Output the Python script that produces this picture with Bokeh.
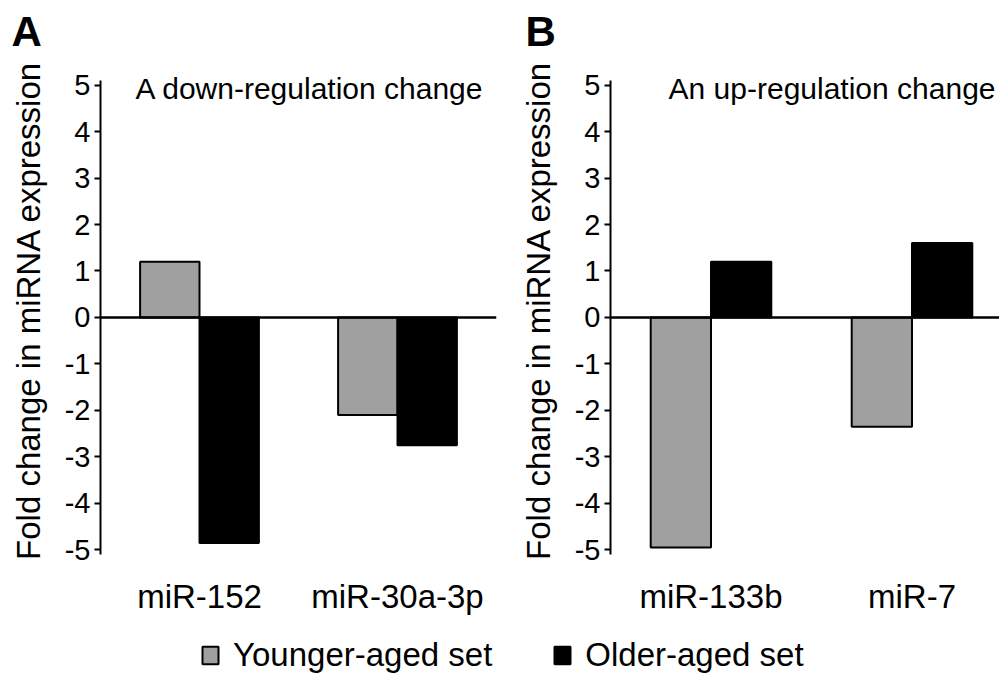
from bokeh.plotting import figure
from bokeh.models import (Range1d, FixedTicker, Span, Label, Legend, LegendItem,
                          LinearAxis, ColumnDataSource)
from bokeh.layouts import column, row
from bokeh.embed import file_html
from bokeh.resources import INLINE

FONT = "Liberation Sans"

# ---- data ----
mirnas_a = ["miR-152", "miR-30a-3p"]
younger_a = [1.2, -2.1]
older_a = [-4.85, -2.75]

mirnas_b = ["miR-133b", "miR-7"]
younger_b = [-4.95, -2.35]
older_b = [1.2, 1.6]

series = ["Younger-aged set", "Older-aged set"]
y_ticks = [-5, -4, -3, -2, -1, 0, 1, 2, 3, 4, 5]
y_label = "Fold change in miRNA expression"
titles = ["A down-regulation change", "An up-regulation change"]
panel_letters = ["A", "B"]

GRAY = "#a0a0a0"
BAR_W = 0.3
HEADER_H = 60
PANEL_H = 560
LEGEND_H = 57


def make_panel(cats, young, old, title, width, b_left, b_right, x_end, title_x):
    p = figure(width=width, height=PANEL_H, output_backend="svg", toolbar_location=None,
               x_range=Range1d(0, x_end), y_range=Range1d(-5.1, 5.4),
               min_border_left=b_left, min_border_right=b_right,
               min_border_top=6, min_border_bottom=66,
               x_axis_location=None, y_axis_location=None)
    p.grid.visible = False
    p.outline_line_color = None
    p.background_fill_color = "white"
    p.border_fill_color = "white"

    centers = [i + 0.5 for i in range(len(cats))]
    src = ColumnDataSource(dict(
        xy=[c - BAR_W / 2 for c in centers],
        xo=[c + BAR_W / 2 for c in centers],
        young=young, old=old))
    p.vbar(x="xy", top="young", bottom=0, width=BAR_W, source=src,
           fill_color=GRAY, line_color="black", line_width=2)
    p.vbar(x="xo", top="old", bottom=0, width=BAR_W, source=src,
           fill_color="black", line_color="black", line_width=2)

    p.add_layout(Span(location=0, dimension="width", line_color="black", line_width=2.5))

    yax = LinearAxis(ticker=FixedTicker(ticks=y_ticks), axis_label=y_label,
                     major_label_overrides={t: str(t) for t in y_ticks},
                     bounds=(-5.1, 5.1))
    yax.axis_line_width = 2
    yax.major_tick_line_width = 2
    yax.major_tick_out = 6
    yax.major_tick_in = 0
    yax.minor_tick_line_color = None
    yax.major_label_text_font = FONT
    yax.major_label_text_font_size = "29px"
    yax.major_label_text_color = "black"
    yax.major_label_standoff = 4
    yax.axis_label_text_font = FONT
    yax.axis_label_text_font_size = "33px"
    yax.axis_label_text_font_style = "normal"
    yax.axis_label_text_color = "black"
    yax.axis_label_standoff = 15
    p.add_layout(yax, "left")

    xax = LinearAxis(ticker=FixedTicker(ticks=centers),
                     major_label_overrides={c: n for c, n in zip(centers, cats)})
    xax.axis_line_color = None
    xax.major_tick_line_color = None
    xax.minor_tick_line_color = None
    xax.major_label_text_font = FONT
    xax.major_label_text_font_size = "33px"
    xax.major_label_text_color = "black"
    xax.major_label_standoff = 17
    p.add_layout(xax, "below")

    p.add_layout(Label(x=title_x, y=4.917, text=title, text_font=FONT,
                       text_font_size="30px", text_color="black",
                       text_baseline="middle"))
    return p


# header with the panel letters
head = figure(width=999, height=HEADER_H, output_backend="svg", toolbar_location=None,
              min_border=0, x_range=Range1d(0, 999), y_range=Range1d(HEADER_H, 0),
              x_axis_location=None, y_axis_location=None)
head.grid.visible = False
head.outline_line_color = None
for letter, lx in zip(panel_letters, [11, 525]):
    head.add_layout(Label(x=lx, y=31, text=letter, text_font=FONT,
                          text_font_size="42px", text_font_style="bold",
                          text_color="black", text_baseline="middle"))

pa = make_panel(mirnas_a, younger_a, older_a, titles[0],
                width=500, b_left=100, b_right=4, x_end=2.0, title_x=0.177)
pb = make_panel(mirnas_b, younger_b, older_b, titles[1],
                width=499, b_left=110, b_right=0, x_end=389 / 201, title_x=0.289)

leg = figure(width=999, height=LEGEND_H, output_backend="svg", toolbar_location=None,
             min_border=0, x_range=Range1d(0, 1), y_range=Range1d(0, 1),
             x_axis_location=None, y_axis_location=None)
leg.grid.visible = False
leg.outline_line_color = None
# hidden swatch renderers: only their legend glyphs are drawn
l1 = leg.vbar(x=[0.5], top=[1], width=0.1, fill_color=GRAY, line_color="black",
              line_width=2, visible=False)
l2 = leg.vbar(x=[0.5], top=[1], width=0.1, fill_color="black", line_color="black",
              line_width=2, visible=False)
legend = Legend(items=[LegendItem(label=series[0], renderers=[l1]),
                       LegendItem(label=series[1], renderers=[l2])],
                orientation="horizontal", location=(200, 3),
                glyph_width=20, glyph_height=22, label_standoff=13, spacing=60,
                label_text_font=FONT, label_text_font_size="33px",
                label_text_color="black", padding=0, margin=0,
                border_line_color=None, background_fill_alpha=0,
                inactive_fill_alpha=0)
leg.add_layout(legend, "center")

layout = column(head, row(pa, pb), leg)

with open("out.html", "w") as f:
    f.write(file_html(layout, INLINE))
